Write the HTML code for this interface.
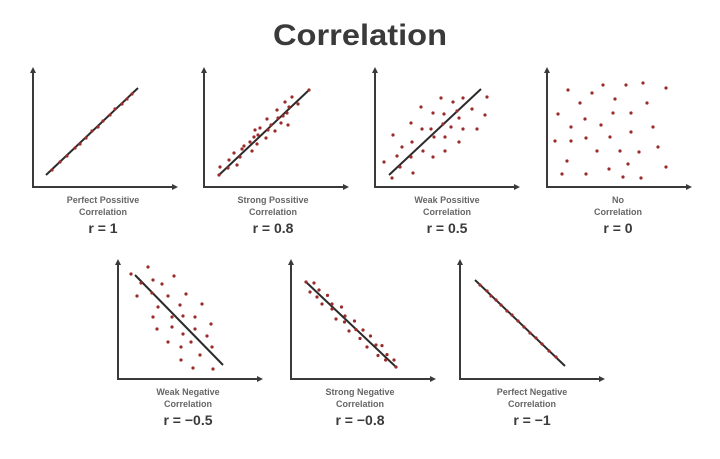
<!DOCTYPE html>
<html><head><meta charset="utf-8"><style>
html,body{margin:0;padding:0;background:#fff;}
svg{display:block;}
.ax{stroke:#3a3a3a;stroke-width:2;fill:none;}
.ln{stroke:#2b2b2b;stroke-width:2;}
.d circle{fill:#9a2b2b;}
.lab{font-family:"Liberation Sans",sans-serif;font-weight:bold;font-size:9px;fill:#666;text-anchor:middle;}
.r{font-family:"Liberation Sans",sans-serif;font-weight:bold;font-size:14px;fill:#3a3a3a;text-anchor:middle;}
</style></head><body>
<svg width="720" height="459" viewBox="0 0 720 459" xmlns="http://www.w3.org/2000/svg">
<rect width="720" height="459" fill="#fff"/>
<text x="360" y="45" font-family="Liberation Sans, sans-serif" font-weight="bold" font-size="30" fill="#3a3a3a" text-anchor="middle" textLength="174" lengthAdjust="spacingAndGlyphs">Correlation</text>

<defs>
<g id="axT"><path class="ax" d="M0,-117 V0 H142"/><path d="M-3,-114 L0,-120 L3,-114Z M139,-3 L145,0 L139,3Z" fill="#3a3a3a"/></g>
</defs>

<!-- top row axes -->
<use href="#axT" x="33" y="187"/>
<use href="#axT" x="204" y="187"/>
<use href="#axT" x="375" y="187"/>
<use href="#axT" x="547" y="187"/>
<!-- bottom row axes -->
<use href="#axT" x="118" y="379"/>
<use href="#axT" x="291" y="379"/>
<use href="#axT" x="460" y="379"/>

<!-- panel 1 -->
<line class="ln" x1="46" y1="175" x2="138" y2="88"/>
<g class="d">
<circle cx="52" cy="170" r="1.6"/><circle cx="60" cy="162" r="1.6"/><circle cx="67" cy="156" r="1.6"/><circle cx="75" cy="148" r="1.6"/><circle cx="80" cy="144" r="1.6"/><circle cx="86" cy="138" r="1.6"/><circle cx="92" cy="131" r="1.6"/><circle cx="98" cy="127" r="1.6"/><circle cx="103" cy="121" r="1.6"/><circle cx="110" cy="115" r="1.6"/><circle cx="115" cy="109" r="1.6"/><circle cx="122" cy="104" r="1.6"/><circle cx="127" cy="99" r="1.6"/><circle cx="132" cy="94" r="1.6"/>
</g>

<!-- panel 2 -->
<line class="ln" x1="219" y1="175" x2="309" y2="90"/>
<g class="d">
<circle cx="220" cy="167" r="1.6"/><circle cx="219" cy="175" r="1.6"/><circle cx="228" cy="168" r="1.6"/><circle cx="229" cy="160" r="1.6"/><circle cx="237" cy="165" r="1.6"/><circle cx="234" cy="153" r="1.6"/><circle cx="240" cy="157" r="1.6"/><circle cx="242" cy="149" r="1.6"/><circle cx="244" cy="146" r="1.6"/><circle cx="250" cy="142" r="1.6"/><circle cx="252" cy="151" r="1.6"/><circle cx="255" cy="130" r="1.6"/><circle cx="254" cy="137" r="1.6"/><circle cx="258" cy="135" r="1.6"/><circle cx="260" cy="128" r="1.6"/><circle cx="257" cy="144" r="1.6"/><circle cx="267" cy="119" r="1.6"/><circle cx="266" cy="138" r="1.6"/><circle cx="268" cy="130" r="1.6"/><circle cx="271" cy="125" r="1.6"/><circle cx="275" cy="131" r="1.6"/><circle cx="277" cy="110" r="1.6"/><circle cx="278" cy="118" r="1.6"/><circle cx="281" cy="123" r="1.6"/><circle cx="285" cy="102" r="1.6"/><circle cx="287" cy="113" r="1.6"/><circle cx="289" cy="107" r="1.6"/><circle cx="292" cy="97" r="1.6"/><circle cx="298" cy="104" r="1.6"/><circle cx="309" cy="90" r="1.6"/><circle cx="288" cy="125" r="1.6"/><circle cx="283" cy="116" r="1.6"/>
</g>

<!-- panel 3 -->
<line class="ln" x1="389" y1="175" x2="481" y2="89"/>
<g class="d">
<circle cx="384" cy="162" r="1.6"/><circle cx="392" cy="178" r="1.6"/><circle cx="393" cy="135" r="1.6"/><circle cx="397" cy="156" r="1.6"/><circle cx="400" cy="167" r="1.6"/><circle cx="402" cy="147" r="1.6"/><circle cx="411" cy="123" r="1.6"/><circle cx="412" cy="142" r="1.6"/><circle cx="411" cy="157" r="1.6"/><circle cx="413" cy="173" r="1.6"/><circle cx="421" cy="107" r="1.6"/><circle cx="422" cy="129" r="1.6"/><circle cx="423" cy="151" r="1.6"/><circle cx="431" cy="129" r="1.6"/><circle cx="433" cy="113" r="1.6"/><circle cx="433" cy="157" r="1.6"/><circle cx="434" cy="137" r="1.6"/><circle cx="441" cy="98" r="1.6"/><circle cx="443" cy="124" r="1.6"/><circle cx="444" cy="114" r="1.6"/><circle cx="445" cy="151" r="1.6"/><circle cx="445" cy="137" r="1.6"/><circle cx="453" cy="102" r="1.6"/><circle cx="451" cy="127" r="1.6"/><circle cx="457" cy="111" r="1.6"/><circle cx="459" cy="118" r="1.6"/><circle cx="459" cy="142" r="1.6"/><circle cx="463" cy="98" r="1.6"/><circle cx="463" cy="129" r="1.6"/><circle cx="472" cy="109" r="1.6"/><circle cx="477" cy="129" r="1.6"/><circle cx="485" cy="115" r="1.6"/><circle cx="487" cy="97" r="1.6"/>
</g>

<!-- panel 4 -->
<g class="d">
<circle cx="555" cy="141" r="1.6"/><circle cx="558" cy="114" r="1.6"/><circle cx="562" cy="174" r="1.6"/><circle cx="567" cy="161" r="1.6"/><circle cx="568" cy="90" r="1.6"/><circle cx="571" cy="127" r="1.6"/><circle cx="571" cy="141" r="1.6"/><circle cx="580" cy="103" r="1.6"/><circle cx="585" cy="119" r="1.6"/><circle cx="586" cy="138" r="1.6"/><circle cx="586" cy="174" r="1.6"/><circle cx="592" cy="93" r="1.6"/><circle cx="597" cy="151" r="1.6"/><circle cx="601" cy="125" r="1.6"/><circle cx="603" cy="85" r="1.6"/><circle cx="610" cy="137" r="1.6"/><circle cx="609" cy="169" r="1.6"/><circle cx="613" cy="113" r="1.6"/><circle cx="615" cy="99" r="1.6"/><circle cx="620" cy="151" r="1.6"/><circle cx="623" cy="177" r="1.6"/><circle cx="626" cy="85" r="1.6"/><circle cx="628" cy="164" r="1.6"/><circle cx="631" cy="113" r="1.6"/><circle cx="631" cy="132" r="1.6"/><circle cx="639" cy="152" r="1.6"/><circle cx="641" cy="178" r="1.6"/><circle cx="643" cy="83" r="1.6"/><circle cx="647" cy="103" r="1.6"/><circle cx="653" cy="127" r="1.6"/><circle cx="658" cy="147" r="1.6"/><circle cx="666" cy="88" r="1.6"/><circle cx="666" cy="167" r="1.6"/>
</g>

<!-- panel 5 -->
<line class="ln" x1="135" y1="275" x2="223" y2="365"/>
<g class="d">
<circle cx="131" cy="274" r="1.6"/><circle cx="137" cy="296" r="1.6"/><circle cx="141" cy="283" r="1.6"/><circle cx="148" cy="267" r="1.6"/><circle cx="153" cy="280" r="1.6"/><circle cx="152" cy="293" r="1.6"/><circle cx="153" cy="317" r="1.6"/><circle cx="157" cy="329" r="1.6"/><circle cx="158" cy="307" r="1.6"/><circle cx="162" cy="284" r="1.6"/><circle cx="168" cy="296" r="1.6"/><circle cx="168" cy="342" r="1.6"/><circle cx="172" cy="317" r="1.6"/><circle cx="172" cy="327" r="1.6"/><circle cx="174" cy="276" r="1.6"/><circle cx="180" cy="305" r="1.6"/><circle cx="181" cy="347" r="1.6"/><circle cx="181" cy="360" r="1.6"/><circle cx="183" cy="316" r="1.6"/><circle cx="183" cy="334" r="1.6"/><circle cx="186" cy="294" r="1.6"/><circle cx="191" cy="342" r="1.6"/><circle cx="195" cy="317" r="1.6"/><circle cx="195" cy="329" r="1.6"/><circle cx="193" cy="368" r="1.6"/><circle cx="200" cy="355" r="1.6"/><circle cx="202" cy="304" r="1.6"/><circle cx="207" cy="336" r="1.6"/><circle cx="211" cy="324" r="1.6"/><circle cx="212" cy="347" r="1.6"/><circle cx="213" cy="369" r="1.6"/>
</g>

<!-- panel 6 -->
<line class="ln" x1="306" y1="282" x2="396" y2="367"/>
<g class="d">
<circle cx="306" cy="282" r="1.6"/><circle cx="314" cy="283" r="1.6"/><circle cx="310" cy="292" r="1.6"/><circle cx="319" cy="290" r="1.6"/><circle cx="317" cy="297" r="1.6"/><circle cx="327.5" cy="295.4" r="1.6"/><circle cx="322" cy="304" r="1.6"/><circle cx="332" cy="304" r="1.6"/><circle cx="332" cy="309" r="1.6"/><circle cx="341.5" cy="307" r="1.6"/><circle cx="336" cy="319" r="1.6"/><circle cx="345" cy="316" r="1.6"/><circle cx="344.5" cy="322" r="1.6"/><circle cx="354.5" cy="321" r="1.6"/><circle cx="349" cy="331" r="1.6"/><circle cx="356" cy="329.6" r="1.6"/><circle cx="363" cy="330" r="1.6"/><circle cx="360" cy="338.5" r="1.6"/><circle cx="370.5" cy="336" r="1.6"/><circle cx="367" cy="347" r="1.6"/><circle cx="376" cy="345" r="1.6"/><circle cx="382" cy="345.6" r="1.6"/><circle cx="378" cy="355.5" r="1.6"/><circle cx="387" cy="354.6" r="1.6"/><circle cx="385.6" cy="360" r="1.6"/><circle cx="394" cy="360" r="1.6"/><circle cx="396" cy="367" r="1.6"/>
</g>

<!-- panel 7 -->
<line class="ln" x1="475" y1="280" x2="565" y2="366"/>
<g class="d">
<circle cx="480" cy="285" r="1.6"/><circle cx="487" cy="291" r="1.6"/><circle cx="491" cy="296" r="1.6"/><circle cx="496" cy="300" r="1.6"/><circle cx="501" cy="305" r="1.6"/><circle cx="507" cy="311" r="1.6"/><circle cx="512" cy="315" r="1.6"/><circle cx="518" cy="321" r="1.6"/><circle cx="524" cy="327" r="1.6"/><circle cx="530" cy="333" r="1.6"/><circle cx="536" cy="338" r="1.6"/><circle cx="542" cy="344" r="1.6"/><circle cx="549" cy="351" r="1.6"/><circle cx="556" cy="357" r="1.6"/>
</g>

<!-- labels top -->
<text class="lab" x="103" y="203">Perfect Possitive</text><text class="lab" x="103" y="215">Correlation</text><text class="r" x="103" y="233">r = 1</text>
<text class="lab" x="273" y="203">Strong Possitive</text><text class="lab" x="273" y="215">Correlation</text><text class="r" x="273" y="233">r = 0.8</text>
<text class="lab" x="447" y="203">Weak Possitive</text><text class="lab" x="447" y="215">Correlation</text><text class="r" x="447" y="233">r = 0.5</text>
<text class="lab" x="618" y="203">No</text><text class="lab" x="618" y="215">Correlation</text><text class="r" x="618" y="233">r = 0</text>
<!-- labels bottom -->
<text class="lab" x="188" y="395">Weak Negative</text><text class="lab" x="188" y="407">Correlation</text><text class="r" x="188" y="425">r = −0.5</text>
<text class="lab" x="360" y="395">Strong Negative</text><text class="lab" x="360" y="407">Correlation</text><text class="r" x="360" y="425">r = −0.8</text>
<text class="lab" x="532" y="395">Perfect Negative</text><text class="lab" x="532" y="407">Correlation</text><text class="r" x="532" y="425">r = −1</text>
</svg>
</body></html>
